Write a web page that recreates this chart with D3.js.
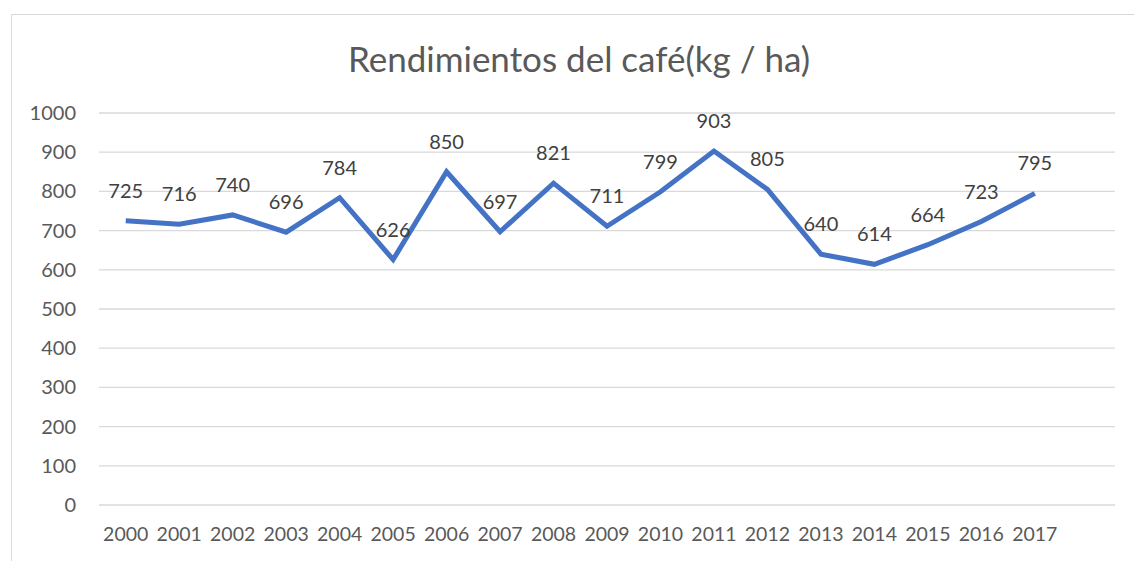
<!DOCTYPE html>
<html><head><meta charset="utf-8">
<script src="https://cdn.jsdelivr.net/npm/d3@7"></script>
<style>body{margin:0;background:#fff}</style>
</head><body>
<svg id="c" width="1134" height="561"></svg>
<script>
const years = ["2000","2001","2002","2003","2004","2005","2006","2007","2008","2009","2010","2011","2012","2013","2014","2015","2016","2017"];
const yields = [725,716,740,696,784,626,850,697,821,711,799,903,805,640,614,664,723,795];
const yTicks = [0,100,200,300,400,500,600,700,800,900,1000];
const title = "Rendimientos del café(kg / ha)";

(function(){
const svg = d3.select("#c");
const font = "Lato, 'Open Sans', sans-serif";
// chart border
svg.append("path").attr("d","M11.5,561 V14.5 H1134").attr("fill","none").attr("stroke","#d9d9d9").attr("stroke-width",1);

const pL = 99, pR = 1115, pT = 113, pB = 505;
const step = (pR-pL)/19;
const x = d3.scaleBand().domain(years).range([pL, pL + step*years.length]);
const y = d3.scaleLinear().domain([0,1000]).range([pB, pT]);

// gridlines
svg.append("g").selectAll("line").data(yTicks).join("line")
  .attr("x1",pL).attr("x2",pR).attr("y1",d=>y(d)).attr("y2",d=>y(d))
  .attr("stroke","#d9d9d9").attr("stroke-width",1.3);

// y axis
const ya = svg.append("g").attr("transform",`translate(${pL},0)`)
  .call(d3.axisLeft(y).tickValues(yTicks).tickFormat(d3.format("d")).tickSize(0).tickPadding(23));
ya.select(".domain").remove();
ya.selectAll("text").attr("font-family",font).attr("font-size",20).attr("fill","#595959");

// x axis
const xa = svg.append("g").attr("transform",`translate(0,${pB})`)
  .call(d3.axisBottom(x).tickSize(0).tickPadding(22));
xa.select(".domain").remove();
xa.selectAll("text").attr("font-family",font).attr("font-size",19.5).attr("fill","#595959");

// line
const line = d3.line().x((d,i)=>x(years[i])+x.bandwidth()/2).y(d=>y(d));
svg.append("path").datum(yields).attr("d",line).attr("fill","none")
  .attr("stroke","#4472C4").attr("stroke-width",5).attr("stroke-linejoin","miter");

// data labels
svg.append("g").selectAll("text").data(yields).join("text")
  .attr("x",(d,i)=>x(years[i])+x.bandwidth()/2).attr("y",d=>y(d)-23)
  .attr("text-anchor","middle").attr("font-family",font).attr("font-size",20)
  .attr("fill","#404040").text(d=>d);

// title
svg.append("text").attr("x",579).attr("y",72).attr("text-anchor","middle")
  .attr("font-family",font).attr("font-size",35).attr("fill","#595959").text(title);
})();
</script>
</body></html>
